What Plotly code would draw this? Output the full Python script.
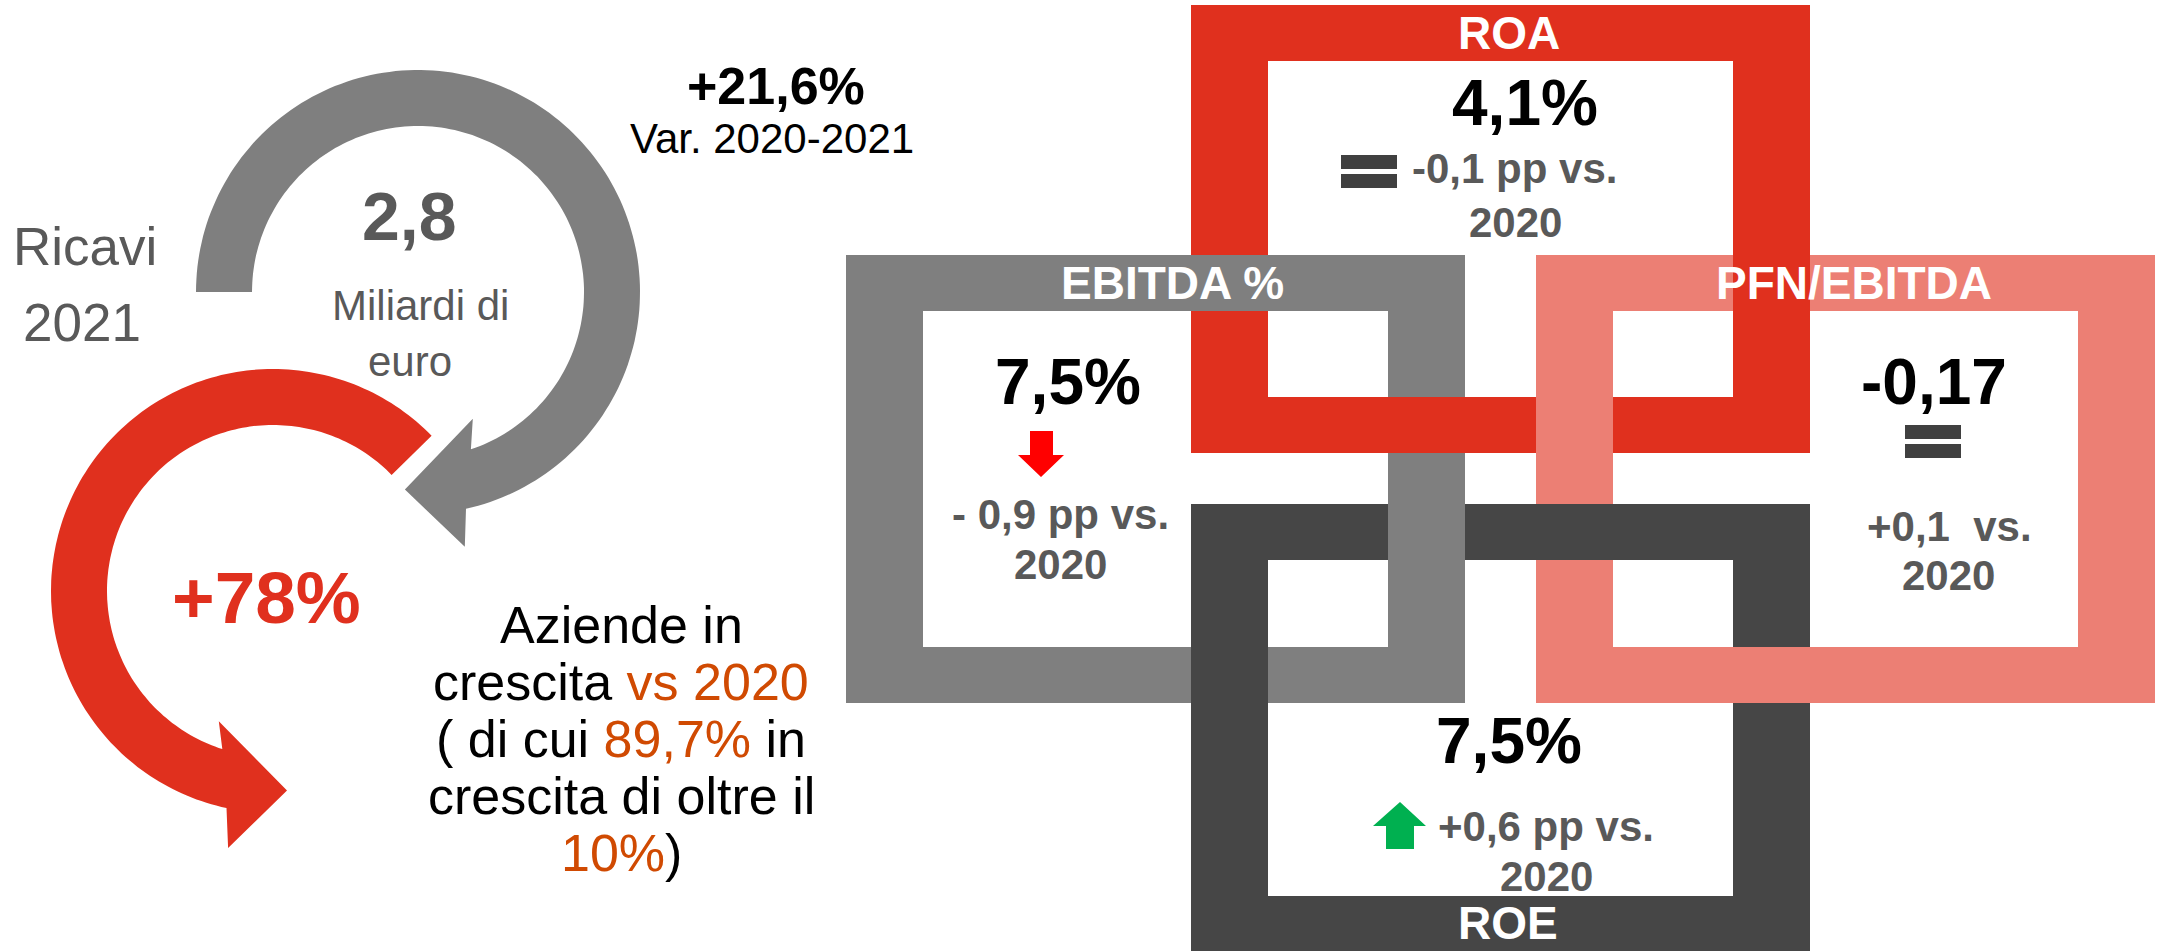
import numpy as np
import plotly.graph_objects as go

ricavi_label = ["Ricavi", "2021"]
ricavi_valore = "2,8"
ricavi_unita = ["Miliardi di", "euro"]
var_ricavi = "+21,6%"
var_label = "Var. 2020-2021"
quota_crescita = "+78%"
ARANCIO = "#D04A02"
testo_crescita = [
    "Aziende in",
    f"crescita <span style='color:{ARANCIO}'>vs 2020</span>",
    f"( di cui <span style='color:{ARANCIO}'>89,7%</span> in",
    "crescita di oltre il",
    f"<span style='color:{ARANCIO}'>10%</span>)",
]

kpi_nomi = ["ROA", "EBITDA %", "PFN/EBITDA", "ROE"]
kpi_valori = ["4,1%", "7,5%", "-0,17", "7,5%"]
kpi_delta = ["-0,1 pp vs.", "- 0,9 pp vs.", "+0,1  vs.", "+0,6 pp vs."]
kpi_anno = ["2020", "2020", "2020", "2020"]
kpi_trend = ["uguale", "giu", "uguale", "su"]

# --- stile / posizioni (pixel della pagina) ---
W, H = 2161, 951
FONT = "Liberation Sans, Arial, sans-serif"
ROSSO = "#E0301E"
GRIGIO = "#7F7F7F"
SALMONE = "#EC7F74"
SCURO = "#464646"
TESTO_GRIGIO = "#595959"

BX, BY = 77, 56
riquadri = {
    "ROA": dict(box=(1191, 5, 1810, 453), col=ROSSO, label_y=33),
    "EBITDA %": dict(box=(846, 255, 1465, 703), col=GRIGIO, label_y=283),
    "PFN/EBITDA": dict(box=(1536, 255, 2155, 703), col=SALMONE, label_y=283),
    "ROE": dict(box=(1191, 504, 1810, 952), col=SCURO, label_y=923),
}
# posizioni del testo in ogni riquadro: valore, icona, delta, anno
pos_testi = {
    "ROA": dict(val=(1525, 103), icon=(1369, 171), delta=(1514, 168), anno=(1515, 222), label_x=1509),
    "EBITDA %": dict(val=(1068, 382), icon=(1041, 454), delta=(1060, 514), anno=(1060, 564), label_x=1172),
    "PFN/EBITDA": dict(val=(1934, 382), icon=(1933, 441), delta=(1949, 526), anno=(1948, 575), label_x=1854),
    "ROE": dict(val=(1509, 741), icon=(1400, 825), delta=(1546, 826), anno=(1546, 876), label_x=1508),
}

shapes = []


def rect(x0, y0, x1, y1, col):
    return dict(type="rect", xref="x", yref="y", x0=x0, y0=y0, x1=x1, y1=y1,
                fillcolor=col, line=dict(width=0), layer="above")


def bande(box):
    x0, y0, x1, y1 = box
    return {
        "top": (x0, y0, x1, y0 + BY),
        "bottom": (x0, y1 - BY, x1, y1),
        "left": (x0, y0, x0 + BX, y1),
        "right": (x1 - BX, y0, x1, y1),
    }


def path(pts, col):
    d = "M " + " L ".join(f"{x:.1f},{y:.1f}" for x, y in pts) + " Z"
    return dict(type="path", xref="x", yref="y", path=d, fillcolor=col,
                line=dict(width=0), layer="above")


# cornici
for nome in kpi_nomi:
    r = riquadri[nome]
    for b in bande(r["box"]).values():
        shapes.append(rect(*b, r["col"]))

# incroci: quale cornice passa sopra
incroci = [
    ("ROA", "bottom", "EBITDA %", "right"),
    ("ROA", "right", "PFN/EBITDA", "top"),
    ("EBITDA %", "right", "ROE", "top"),
    ("PFN/EBITDA", "bottom", "ROE", "right"),
]
for sopra, bs, sotto, bo in incroci:
    a = bande(riquadri[sopra]["box"])[bs]
    b = bande(riquadri[sotto]["box"])[bo]
    shapes.append(rect(max(a[0], b[0]), max(a[1], b[1]), min(a[2], b[2]), min(a[3], b[3]),
                       riquadri[sopra]["col"]))


# frecce circolari
def freccia_arco(cx, cy, a0, a_in, a_out, testa, r_in=166, r_out=222):
    # a0: inizio; a_in/a_out: fine arco lato interno/esterno; testa: [(ang, r), ...]
    pol = lambda a, r: (cx + r * np.cos(np.radians(a)), cy + r * np.sin(np.radians(a)))
    pts = [pol(a, r_out) for a in np.linspace(a0, a_out, 160)]
    pts += [pol(a, r) for a, r in testa]
    pts += [pol(a, r_in) for a in np.linspace(a_in, a0, 160)]
    return pts


grigio_pts = freccia_arco(418, 292, 180, 431.4, 437.5,
                          [(439.6, 259), (453.8, 198), (426.6, 138)])
rosso_pts = freccia_arco(273, 591, -44.4, -252.2, -257.9,
                         [(-260.1, 261), (-274, 200), (-247.4, 141)])
shapes.append(path(grigio_pts, GRIGIO))
shapes.append(path(rosso_pts, ROSSO))


# icone trend
def icona(kind, cx, cy):
    if kind == "uguale":
        return [rect(cx - 28, cy - 16, cx + 28, cy - 2, "#404040"),
                rect(cx - 28, cy + 3, cx + 28, cy + 17, "#404040")]
    if kind == "giu":
        pts = [(cx - 11, cy - 23), (cx + 12, cy - 23), (cx + 12, cy + 1), (cx + 23, cy + 1),
               (cx, cy + 23), (cx - 23, cy + 1), (cx - 11, cy + 1)]
        return [path(pts, "#FF0000")]
    pts = [(cx - 14, cy + 24), (cx + 14, cy + 24), (cx + 14, cy + 1), (cx + 26, cy + 1),
           (cx, cy - 23), (cx - 27, cy + 1), (cx - 14, cy + 1)]
    return [path(pts, "#00B050")]


annotations = []


def testo(x, y, t, size, col, bold=False):
    annotations.append(dict(x=x, y=y, xref="x", yref="y", text=f"<b>{t}</b>" if bold else t,
                            showarrow=False, xanchor="center", yanchor="middle",
                            font=dict(family=FONT, size=size, color=col)))


for i, nome in enumerate(kpi_nomi):
    p = pos_testi[nome]
    shapes.extend(icona(kpi_trend[i], *p["icon"]))
    testo(p["label_x"], riquadri[nome]["label_y"], nome, 46, "white", True)
    testo(*p["val"], kpi_valori[i], 64, "black", True)
    testo(*p["delta"], kpi_delta[i], 42, TESTO_GRIGIO, True)
    testo(*p["anno"], kpi_anno[i], 42, TESTO_GRIGIO, True)

# parte sinistra
testo(776, 86, var_ricavi, 52, "black", True)
testo(772, 138, var_label, 42, "black")
testo(409, 216, ricavi_valore, 68, TESTO_GRIGIO, True)
testo(420, 305, ricavi_unita[0], 42, TESTO_GRIGIO)
testo(410, 361, ricavi_unita[1], 42, TESTO_GRIGIO)
testo(85, 246, ricavi_label[0], 53, TESTO_GRIGIO)
testo(82, 322, ricavi_label[1], 53, TESTO_GRIGIO)
testo(266, 597, quota_crescita, 73, ROSSO, True)
for k, riga in enumerate(testo_crescita):
    testo(621, 625 + 57 * k, riga, 52, "black")

fig = go.Figure()
fig.update_layout(
    width=W, height=H,
    margin=dict(l=0, r=0, t=0, b=0),
    paper_bgcolor="white", plot_bgcolor="white",
    xaxis=dict(range=[0, W], visible=False, fixedrange=True),
    yaxis=dict(range=[H, 0], visible=False, fixedrange=True),
    shapes=shapes, annotations=annotations, showlegend=False,
)
fig.write_html("out.html", config={"displayModeBar": False},
               post_script="document.body.style.margin='0';")
